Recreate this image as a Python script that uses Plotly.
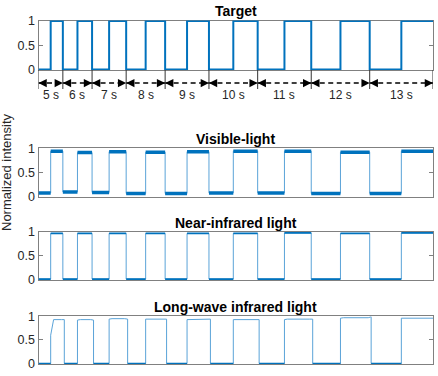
import plotly.graph_objects as go

# ---------------- data ----------------
periods = [5, 6, 7, 8, 9, 10, 11, 12, 13]
period_labels = ["5 s", "6 s", "7 s", "8 s", "9 s", "10 s", "11 s", "12 s", "13 s"]
cycle_starts = [0, 5, 11, 18, 26, 35, 45, 56, 68]
rise_times = [2.5, 8, 14.5, 22, 30.5, 40, 50.5, 62, 74.5]
fall_times = [5, 11, 18, 26, 35, 45, 56, 68, 81]
boundaries = [0, 5, 11, 18, 26, 35, 45, 56, 68, 81]

target_low = [0, 0, 0, 0, 0, 0, 0, 0, 0]
target_high = [1, 1, 1, 1, 1, 1, 1, 1, 1]

vis_low = [0.07, 0.09, 0.08, 0.06, 0.06, 0.07, 0.07, 0.06, 0.06]
vis_high = [0.94, 0.91, 0.93, 0.92, 0.93, 0.94, 0.94, 0.92, 0.94]

nir_low = [0.01, 0.01, 0.01, 0.01, 0.01, 0.01, 0.01, 0.01, 0.01]
nir_high = [0.97, 0.97, 0.97, 0.97, 0.97, 0.97, 0.98, 0.97, 0.98]

lw_low = [0.0, 0.0, 0.0, 0.0, 0.0, 0.0, 0.0, 0.0, 0.0]
lw_high_start = [0.60, 0.92, 0.94, 0.94, 0.93, 0.93, 0.93, 0.96, 0.96]
lw_high = [0.93, 0.93, 0.95, 0.94, 0.93, 0.93, 0.94, 0.97, 0.96]
lw_high_end = [0.93, 0.92, 0.94, 0.94, 0.94, 0.93, 0.94, 0.99, 0.96]
lw_fall_lag = 0.3

yticks = [0, 0.5, 1]
ytick_labels = ["0", "0.5", "1"]

# ---------------- helpers ----------------
W, H = 438, 376
BLUE = "#0072BD"
LIGHT = "#5aa3d8"
FONT = "Liberation Sans, Arial, Helvetica, sans-serif"


def px(x):
    return x / W


def py(y):
    return 1 - y / H


def square(lows, highs):
    xs, ys = [], []
    for s, r, f, lo, hi in zip(cycle_starts, rise_times, fall_times, lows, highs):
        xs += [s, r, r, f]
        ys += [lo, lo, hi, hi]
    return xs, ys


def flat_segments(lows, highs):
    xs, ys = [], []
    for s, r, f, lo, hi in zip(cycle_starts, rise_times, fall_times, lows, highs):
        xs += [s, r, None, r, f, None]
        ys += [lo, lo, None, hi, hi, None]
    return xs, ys


def lwir_series():
    xs, ys = [], []
    for i, (s, r, f) in enumerate(zip(cycle_starts, rise_times, fall_times)):
        start = s + lw_fall_lag if i > 0 else s
        xs += [start, r, r, r + 0.6, f - 0.3, f + lw_fall_lag]
        ys += [lw_low[i], lw_low[i], lw_high_start[i], lw_high[i], lw_high[i], lw_high_end[i]]
    return xs, ys


def lwir_lows():
    xs, ys = [], []
    for i, (s, r) in enumerate(zip(cycle_starts, rise_times)):
        start = s + lw_fall_lag if i > 0 else s
        xs += [start, r, None]
        ys += [lw_low[i], lw_low[i], None]
    return xs, ys


fig = go.Figure()

XDOM = [px(38.5), px(433)]
panels = [
    # (axis suffix, top px, bottom px, title, yrange)
    ("", 20.5, 70, "Target", [-0.012, 1.012]),
    ("2", 148.3, 196.5, "Visible-light", [-0.005, 1.0]),
    ("3", 232, 280, "Near-infrared light", [-0.01, 1.0]),
    ("4", 316.3, 364, "Long-wave infrared light", [-0.01, 1.0]),
]

# Target
tx, ty = square(target_low, target_high)
fig.add_trace(go.Scatter(x=tx, y=ty, mode="lines", line=dict(color=BLUE, width=2),
                         xaxis="x", yaxis="y", showlegend=False, hoverinfo="skip"))

# Visible
vx, vy = square(vis_low, vis_high)
fig.add_trace(go.Scatter(x=vx, y=vy, mode="lines", line=dict(color=LIGHT, width=1),
                         xaxis="x2", yaxis="y2", showlegend=False, hoverinfo="skip"))
vfx, vfy = flat_segments(vis_low, vis_high)
fig.add_trace(go.Scatter(x=vfx, y=vfy, mode="lines", line=dict(color=BLUE, width=3.5),
                         xaxis="x2", yaxis="y2", showlegend=False, hoverinfo="skip"))

# NIR
nx, ny = square(nir_low, nir_high)
fig.add_trace(go.Scatter(x=nx, y=ny, mode="lines", line=dict(color=LIGHT, width=1),
                         xaxis="x3", yaxis="y3", showlegend=False, hoverinfo="skip"))
nfx, nfy = flat_segments(nir_low, nir_high)
fig.add_trace(go.Scatter(x=nfx, y=nfy, mode="lines", line=dict(color=BLUE, width=1.8),
                         xaxis="x3", yaxis="y3", showlegend=False, hoverinfo="skip"))

# LWIR
lx, ly = lwir_series()
fig.add_trace(go.Scatter(x=lx, y=ly, mode="lines", line=dict(color=LIGHT, width=1),
                         xaxis="x4", yaxis="y4", showlegend=False, hoverinfo="skip"))
llx, lly = lwir_lows()
fig.add_trace(go.Scatter(x=llx, y=lly, mode="lines", line=dict(color=BLUE, width=1.5),
                         xaxis="x4", yaxis="y4", showlegend=False, hoverinfo="skip"))

layout = dict(
    template="none",
    width=W, height=H, autosize=False,
    margin=dict(l=0, r=0, t=0, b=0, pad=0, autoexpand=False),
    paper_bgcolor="white", plot_bgcolor="white",
    showlegend=False,
    font=dict(family=FONT, size=12, color="#262626"),
)

annotations = []
shapes = []
for suf, top, bot, title, yr in panels:
    xa = "xaxis" + suf
    ya = "yaxis" + suf
    xid = "x" + suf
    yid = "y" + suf
    layout[xa] = dict(domain=XDOM, range=[0, 81], anchor=yid, automargin=False,
                      showline=True, mirror=True, linecolor="#808080", linewidth=1,
                      showticklabels=False, ticks="", showgrid=False, zeroline=False,
                      layer="below traces", fixedrange=True)
    layout[ya] = dict(domain=[py(bot), py(top)], range=yr, anchor=xid, automargin=False,
                      showline=True, mirror="ticks", linecolor="#808080", linewidth=1,
                      ticks="inside", ticklen=4, tickcolor="#808080",
                      tickvals=yticks, ticktext=ytick_labels,
                      tickfont=dict(size=12.5, color="#262626"),
                      showgrid=False, zeroline=False, layer="below traces", fixedrange=True)
    annotations.append(dict(text="<b>%s</b>" % title, x=px((38.5 + 433) / 2), y=py(top - 9.5),
                            xref="paper", yref="paper", showarrow=False,
                            xanchor="center", yanchor="middle",
                            font=dict(size=14, color="#000000")))

# Period arrows under the target panel
ARROW_Y = py(83)
for i, p in enumerate(periods):
    x0, x1 = boundaries[i], boundaries[i + 1]
    shapes.append(dict(type="line", xref="x", yref="paper", x0=x0, x1=x1,
                       y0=ARROW_Y, y1=ARROW_Y,
                       line=dict(color="black", width=1.5, dash="5px,3.5px")))
    annotations.append(dict(x=x0, y=ARROW_Y, xref="x", yref="paper", text="",
                            showarrow=True, ax=8, ay=0, arrowhead=2, arrowsize=1.1,
                            arrowwidth=1.5, arrowcolor="black"))
    annotations.append(dict(x=x1, y=ARROW_Y, xref="x", yref="paper", text="",
                            showarrow=True, ax=-8, ay=0, arrowhead=2, arrowsize=1.1,
                            arrowwidth=1.5, arrowcolor="black"))
    annotations.append(dict(x=(x0 + x1) / 2, y=py(95), xref="x", yref="paper",
                            text=period_labels[i], showarrow=False,
                            xanchor="center", yanchor="middle",
                            font=dict(size=12, color="#262626")))
for b in boundaries:
    shapes.append(dict(type="line", xref="x", yref="paper", x0=b, x1=b,
                       y0=py(70), y1=py(89), line=dict(color="#333333", width=1)))

annotations.append(dict(text="Normalized intensity", x=px(7), y=py(172), xref="paper", yref="paper",
                        showarrow=False, textangle=-90, xanchor="center", yanchor="middle",
                        font=dict(size=13, color="#262626")))

layout["annotations"] = annotations
layout["shapes"] = shapes
fig.update_layout(**layout)

fig.write_html(
    "out.html",
    config={"displayModeBar": False, "staticPlot": True},
    post_script="document.body.style.margin='0';document.body.style.padding='0';"
                "document.documentElement.style.overflow='hidden';",
)
